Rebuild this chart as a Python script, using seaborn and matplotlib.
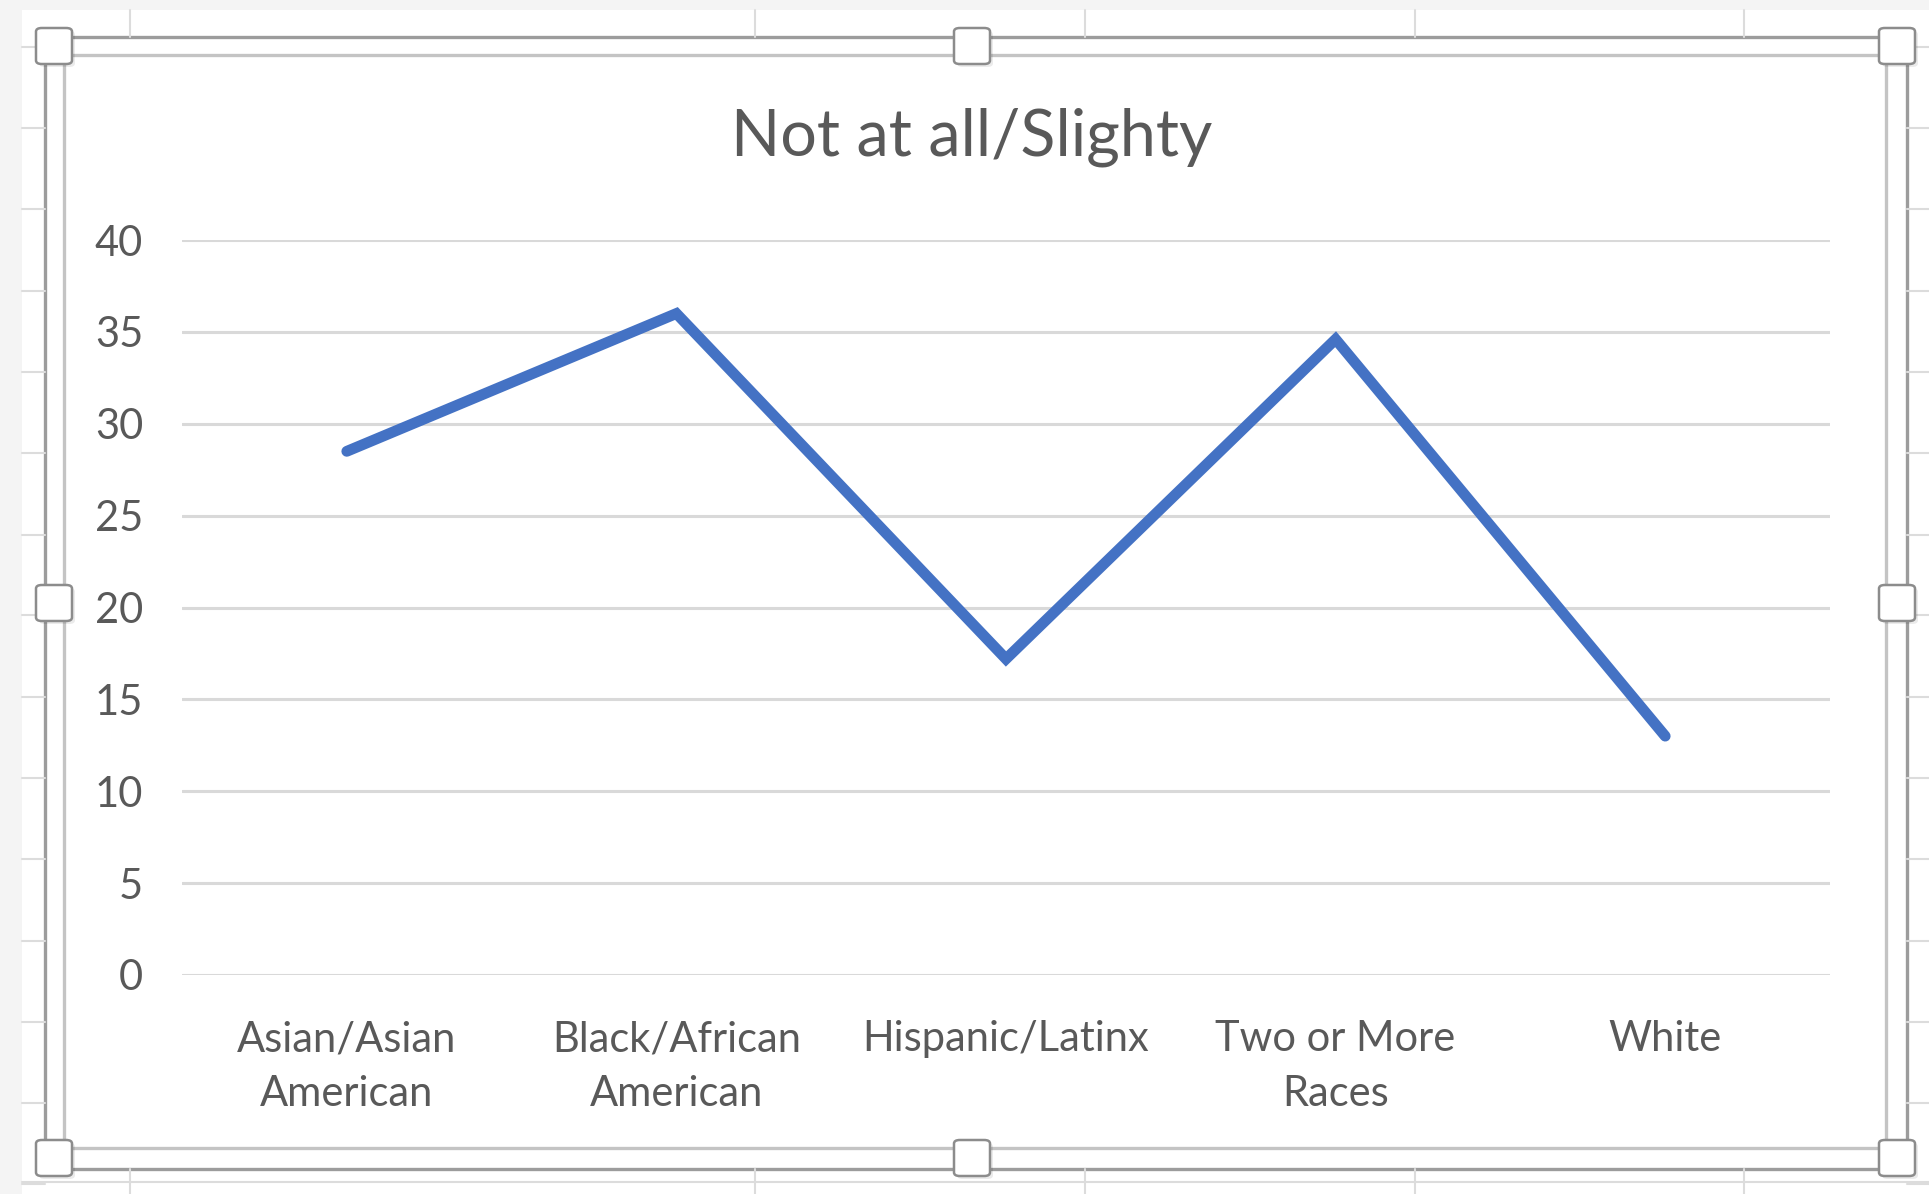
import matplotlib
matplotlib.use("Agg")
import matplotlib.pyplot as plt
import seaborn as sns
from matplotlib.lines import Line2D
from matplotlib.patches import Rectangle, FancyBboxPatch

# Data
groups = ["Asian/Asian\nAmerican", "Black/African\nAmerican", "Hispanic/Latinx",
          "Two or More\nRaces", "White"]
values = [28.5, 36.0, 17.2, 34.6, 13.0]
y_ticks = [0, 5, 10, 15, 20, 25, 30, 35, 40]
title = "Not at all/Slighty"

W, H = 1929, 1194
sns.set_theme(style="white")
plt.rcParams['font.family'] = ['Lato', 'DejaVu Sans']

fig = plt.figure(figsize=(W / 100, H / 100), dpi=100)
fig.patch.set_facecolor("white")


def fx(x):
    return x / W


def fy(y):
    return 1 - y / H


def hline(x0, x1, y, color, lw):
    fig.add_artist(Line2D([fx(x0), fx(x1)], [fy(y), fy(y)], color=color, lw=lw,
                          transform=fig.transFigure, zorder=-1))


def vline(x, y0, y1, color, lw):
    fig.add_artist(Line2D([fx(x), fx(x)], [fy(y0), fy(y1)], color=color, lw=lw,
                          transform=fig.transFigure, zorder=-1))


# spreadsheet background behind the chart
fig.add_artist(Rectangle((0, fy(10)), 1, 1, color="#f4f4f4", transform=fig.transFigure,
                         lw=0, zorder=-3))
fig.add_artist(Rectangle((0, 0), fx(22), 1, color="#f4f4f4", transform=fig.transFigure,
                         lw=0, zorder=-3))
cell_color = "#dcdcdc"
for y in [47, 128, 209, 291, 372, 453, 535, 615, 697, 778, 859, 941, 1022, 1103, 1184]:
    hline(22, 45, y, cell_color, 1.5)
    hline(1907, W, y, cell_color, 1.5)
for x in [130, 755, 1085, 1415, 1744]:
    vline(x, 10, 37, cell_color, 1.5)
    vline(x, 1169, H, cell_color, 1.5)
hline(22, W, 1182, cell_color, 1.5)

# chart area (white) and selection frame
fig.add_artist(Rectangle((fx(45), fy(1169)), fx(1907 - 45), (1169 - 37) / H,
                         facecolor="white", edgecolor="#9c9c9c", lw=2.4,
                         transform=fig.transFigure, zorder=-2))
fig.add_artist(Rectangle((fx(64), fy(1148)), fx(1886 - 64), (1148 - 55) / H,
                         facecolor="white", edgecolor="#c4c4c4", lw=2.4,
                         transform=fig.transFigure, zorder=-2))

# main plot
ax = fig.add_axes([fx(182), fy(975), fx(1830 - 182), (975 - 240) / H])
ax.set_zorder(1)
ax.set_facecolor("none")
sns.lineplot(x=groups, y=values, ax=ax, color="#4472C4", linewidth=7.8, sort=False)
line = ax.lines[0]
line.set_solid_capstyle("round")
line.set_solid_joinstyle("miter")
line.set_zorder(3)

ax.set_xlim(-0.5, len(groups) - 0.5)
ax.set_ylim(0, 40)
ax.set_yticks(y_ticks)
ax.set_yticklabels([str(v) for v in y_ticks])
ax.yaxis.grid(True, color="#d9d9d9", lw=2.2)
ax.xaxis.grid(False)
for s in ax.spines.values():
    s.set_visible(False)
ax.tick_params(axis="both", length=0, labelsize=30, colors="#595959")
ax.tick_params(axis="y", pad=28)
ax.tick_params(axis="x", pad=32.5)
for lab in ax.get_xticklabels():
    lab.set_linespacing(1.53)
ax.set_xlabel("")
ax.set_ylabel("")

fig.text(fx(972), fy(137), title, ha="center", va="center", fontsize=46.5,
         color="#595959", zorder=2)

# resize handles
for cx, cy in [(54, 46), (972, 46), (1897, 46), (54, 603), (1897, 603),
               (54, 1158), (972, 1158), (1897, 1158)]:
    s = 36
    fig.add_artist(FancyBboxPatch((fx(cx - s / 2 + 3), fy(cy + s / 2 + 3)), fx(s), s / H,
                                  boxstyle="round,pad=0,rounding_size=0.003",
                                  facecolor="#000000", alpha=0.08, lw=0,
                                  transform=fig.transFigure, zorder=4))
    fig.add_artist(FancyBboxPatch((fx(cx - s / 2), fy(cy + s / 2)), fx(s), s / H,
                                  boxstyle="round,pad=0,rounding_size=0.003",
                                  facecolor="white", edgecolor="#8c8c8c", lw=1.8,
                                  transform=fig.transFigure, zorder=5))

fig.savefig("out.png", dpi=100)
